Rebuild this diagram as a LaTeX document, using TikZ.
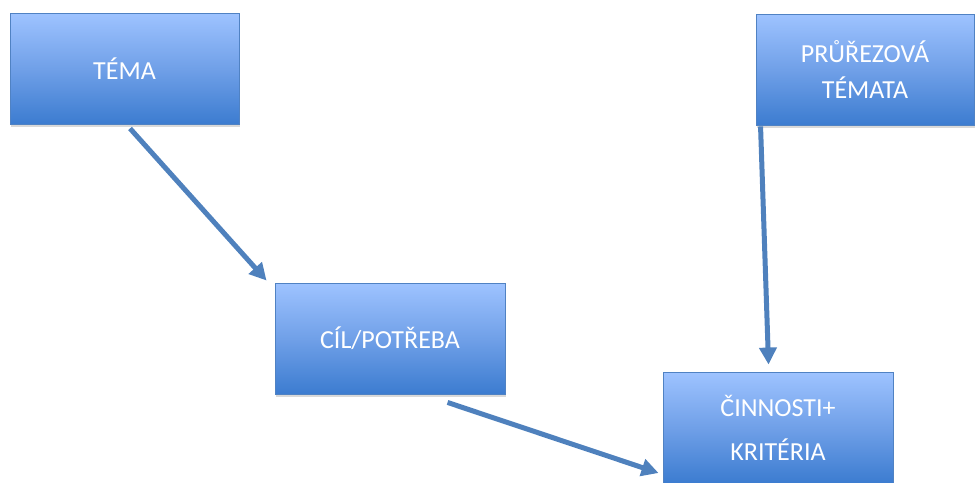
\documentclass[tikz,border=0pt]{standalone}
\usepackage{fontspec}
\setmainfont{Carlito}
\usetikzlibrary{arrows.meta,calc,shadows}
\definecolor{boxtop}{RGB}{158,195,255}
\definecolor{boxmid}{RGB}{112,160,232}
\definecolor{boxbot}{RGB}{60,124,208}
\definecolor{boxline}{RGB}{80,130,195}
\definecolor{arrowblue}{RGB}{79,129,189}
\tikzset{
  bluebox/.style={rectangle, draw=boxline, line width=0.9pt,
    top color=boxtop, bottom color=boxbot, middle color=boxmid,
    minimum height=111pt, inner sep=0pt, text=white, align=center,
    drop shadow={opacity=0.3, shadow xshift=1pt, shadow yshift=-3pt}},
  linkarrow/.style={draw=arrowblue, line width=5pt,
    -{Triangle[length=17pt,width=17pt]}}
}
\begin{document}
\begin{tikzpicture}[x=1pt,y=-1pt]
\useasboundingbox (0,0) rectangle (976,482);
\node[bluebox, minimum width=229pt, font=\fontsize{26}{36}\selectfont] (tema) at (124.5,68.5) {TÉMA};
\node[bluebox, minimum width=218pt, font=\fontsize{26}{36}\selectfont] (prurez) at (865,69.5) {PRŮŘEZOVÁ\\TÉMATA};
\node[bluebox, minimum width=230pt, font=\fontsize{26}{36}\selectfont] (cil) at (390,338.5) {CÍL/POTŘEBA};
\node[bluebox, minimum width=230pt, font=\fontsize{26}{44}\selectfont] (cinn) at (778,427.5) {\rule{0pt}{6pt}ČINNOSTI+\\KRITÉRIA};
\draw[linkarrow] ($(tema.south)+(5.5,4)$) -- ($(cil.north west)+(-8,-2)$);
\draw[linkarrow] ($(prurez.south west)+(5,1)$) -- ($(cinn.north west)+(106,-7)$);
\draw[linkarrow] ($(cil.south west)+(173,8)$) -- ($(cinn.west)+(-4,45.5)$);
\end{tikzpicture}
\end{document}
